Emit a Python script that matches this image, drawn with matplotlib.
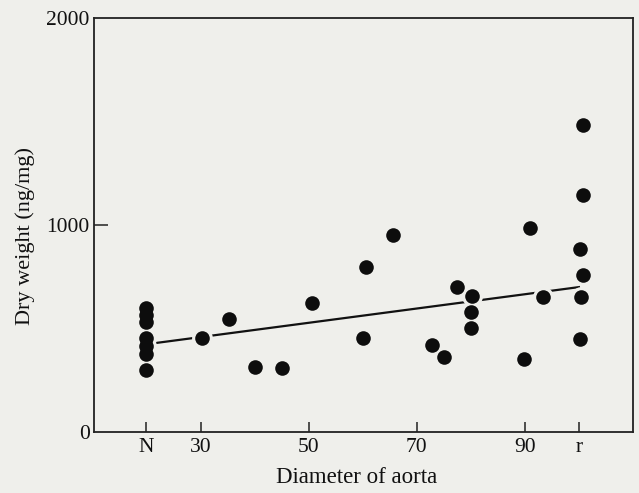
import matplotlib
matplotlib.use("Agg")
import matplotlib.pyplot as plt

# Data
diameter = [20, 20, 20, 20, 20, 20, 20,
            30.3, 35.2, 40.0, 45.1, 50.6, 60.0, 60.6, 65.6,
            72.9, 75.1, 77.4, 80.2, 80.1, 80.0,
            89.9, 90.9, 93.3,
            100.8, 100.7, 100.2, 100.7, 100.3, 100.2]
dry_weight = [600, 565, 530, 455, 415, 375, 300,
              453, 546, 316, 308, 622, 456, 795, 952,
              418, 364, 702, 658, 578, 501,
              353, 987, 651,
              1483, 1145, 883, 760, 654, 448]

fit_x = [20, 100]
fit_y = [424, 700]

x_ticks = [20, 30, 50, 70, 90, 100]
x_ticklabels = ["N", "30", "50", "70", "90", "r"]
y_ticks = [0, 1000, 2000]
y_ticklabels = ["0", "1000", "2000"]

bg = "#efefeb"
plt.rcParams['font.family'] = ['Liberation Serif', 'DejaVu Serif']

fig = plt.figure(figsize=(6.39, 4.93), dpi=100, facecolor=bg)
ax = fig.add_axes([94/639, 1-432/493, (633-94)/639, (432-18)/493])
ax.set_facecolor(bg)

ax.plot(fit_x, fit_y, color="#111111", lw=1.6, zorder=2)
ax.plot(diameter, dry_weight, 'o', ls='none', ms=15, color=bg, mec='none', zorder=3)
ax.plot(diameter, dry_weight, 'o', ls='none', ms=10.5, color="#0d0d0d", mec='none', zorder=4)

ax.set_xlim(10.3, 110)
ax.set_ylim(0, 2000)

ax.set_xticks(x_ticks)
ax.set_xticklabels(x_ticklabels)
ax.set_yticks(y_ticks)
ax.set_yticklabels(y_ticklabels)
ax.tick_params(axis='x', direction='in', length=7, width=1.1, color="#222222",
               labelsize=15.5, pad=4, labelcolor="#111111")
ax.tick_params(axis='y', direction='in', length=10, width=1.1, color="#222222",
               labelsize=15.5, pad=3, labelcolor="#111111")
ax.yaxis.get_major_ticks()[-1].tick1line.set_visible(False)
ax.yaxis.get_major_ticks()[0].tick1line.set_visible(False)

for s in ax.spines.values():
    s.set_linewidth(1.3)
    s.set_color("#222222")

ax.set_xlabel("Diameter of aorta", fontsize=16.5, color="#111111")
ax.xaxis.label.set_va('center')
ax.xaxis.set_label_coords(0.488, -0.111)
ax.set_ylabel("Dry weight (ng/mg)", fontsize=16, color="#111111")
ax.yaxis.label.set_va('center')
ax.yaxis.set_label_coords(-0.128, 0.474)

fig.savefig("out.png", dpi=100, facecolor=bg)
